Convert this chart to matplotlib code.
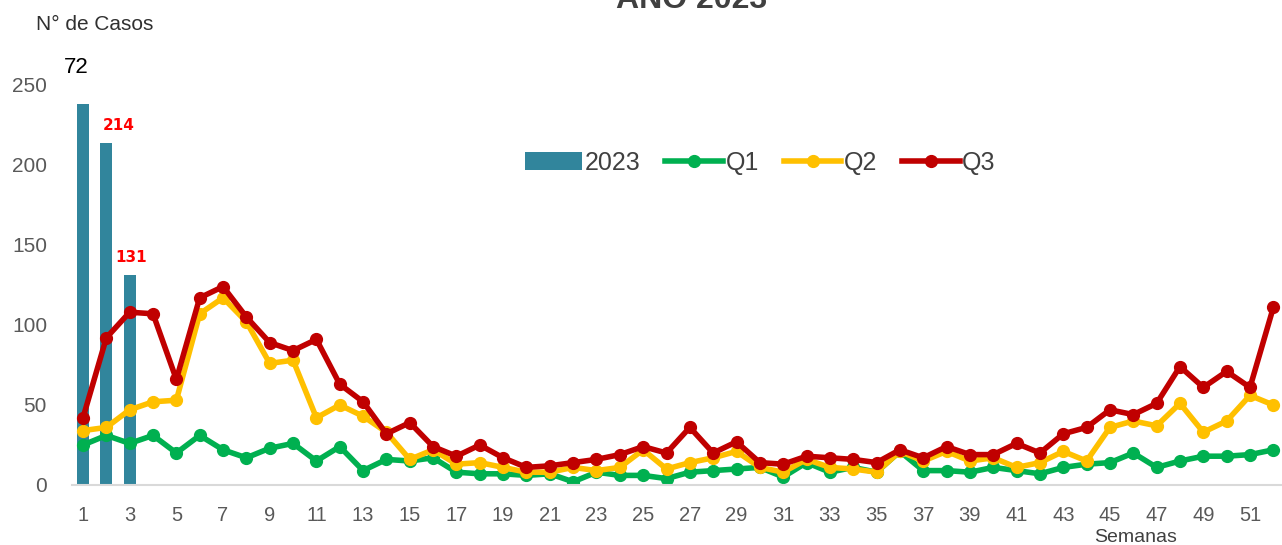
import matplotlib
matplotlib.use('Agg')
import matplotlib.pyplot as plt
from matplotlib.lines import Line2D
from matplotlib.patches import Patch

plt.rcParams['font.family'] = ['Liberation Sans', 'DejaVu Sans']

#data
semanas = list(range(1, 53))
semanas_ticks = list(range(1, 53, 2))
casos_2023 = [238, 214, 131]
q1 = [25, 31, 26, 31, 20, 31, 22, 17, 23, 26, 15, 24, 9,
      16, 15, 17, 8, 7, 7, 6, 7, 2, 8, 6, 6, 4,
      8, 9, 10, 11, 5, 14, 8, 11, 8, 21, 9, 9, 8,
      11, 9, 7, 11, 13, 14, 20, 11, 15, 18, 18, 19, 22]
q2 = [34, 36, 47, 52, 53, 107, 117, 102, 76, 78, 42, 50, 43,
      33, 16, 22, 13, 14, 11, 8, 8, 11, 9, 11, 22, 10,
      14, 17, 21, 11, 8, 16, 11, 10, 8, 21, 15, 21, 15,
      17, 11, 14, 21, 15, 36, 40, 37, 51, 33, 40, 56, 50]
q3 = [42, 92, 108, 107, 66, 117, 124, 105, 89, 84, 91, 63, 52,
      32, 39, 24, 18, 25, 17, 11, 12, 14, 16, 19, 24, 20,
      36, 20, 27, 14, 13, 18, 17, 16, 14, 22, 17, 24, 19,
      19, 26, 20, 32, 36, 47, 44, 51, 74, 61, 71, 61, 111]
etiquetas = ['', '214', '131']

c_bar = '#31859C'
c_q1 = '#00B050'
c_q2 = '#FFC000'
c_q3 = '#C00000'
c_txt = '#404040'

fig = plt.figure(figsize=(12.82, 5.45), dpi=100)
ax = fig.add_axes([72/1282, 1 - 485/545, 1 - 72/1282, 400/545])

ax.bar(semanas[:len(casos_2023)], casos_2023, width=0.52, color=c_bar, zorder=1)
ax.plot(semanas, q1, color=c_q1, lw=4, marker='o', ms=8.5, zorder=2)
ax.plot(semanas, q2, color=c_q2, lw=4, marker='o', ms=8.5, zorder=3)
ax.plot(semanas, q3, color=c_q3, lw=4, marker='o', ms=8.5, zorder=4)

#bar labels
offs = [0, 0.55, 0.05]
for i, v in enumerate(casos_2023):
    if etiquetas[i]:
        ax.text(semanas[i] + offs[i], v + 11, etiquetas[i], color='#FF0000',
                fontsize=11, fontweight='bold', ha='center', va='center',
                family=['DejaVu Sans'])
ax.text(0.7, 261, '72', fontsize=16, color='black', ha='center', va='center',
        clip_on=False)

ax.set_xlim(1 - 11/23.34, 1 + (1282 - 83)/23.34)
ax.set_ylim(0, 250)
ax.set_xticks(semanas_ticks)
ax.set_yticks([0, 50, 100, 150, 200, 250])
ax.tick_params(axis='x', length=0, pad=15, labelsize=14.5, labelcolor='#595959')
ax.tick_params(axis='y', length=0, pad=18, labelsize=15, labelcolor='#595959')
for s in ['top', 'right', 'left']:
    ax.spines[s].set_visible(False)
ax.spines['bottom'].set_color('#D9D9D9')
ax.spines['bottom'].set_linewidth(1.5)

handles = [Patch(facecolor=c_bar, edgecolor='none', label='2023'),
           Line2D([], [], color=c_q1, lw=4, marker='o', ms=8.5, label='Q1'),
           Line2D([], [], color=c_q2, lw=4, marker='o', ms=8.5, label='Q2'),
           Line2D([], [], color=c_q3, lw=4, marker='o', ms=8.5, label='Q3')]
leg = fig.legend(handles=handles, loc='center', bbox_to_anchor=(0.593, 0.701),
                 ncol=4, frameon=False, fontsize=18, handlelength=2.3,
                 handletextpad=0.1, columnspacing=1.0)
for t in leg.get_texts():
    t.set_color(c_txt)

fig.text(692/1282, 1 - 8/545, 'ANO 2023', fontsize=23, fontweight='bold',
         color=c_txt, ha='center', va='baseline')
fig.text(36/1282, 1 - 24/545, 'N° de Casos', fontsize=15, color='#303030',
         ha='left', va='center')
fig.text(1136/1282, 1 - 542/545, 'Semanas', fontsize=14, color=c_txt,
         ha='center', va='baseline')

fig.savefig('out.png', dpi=100)
